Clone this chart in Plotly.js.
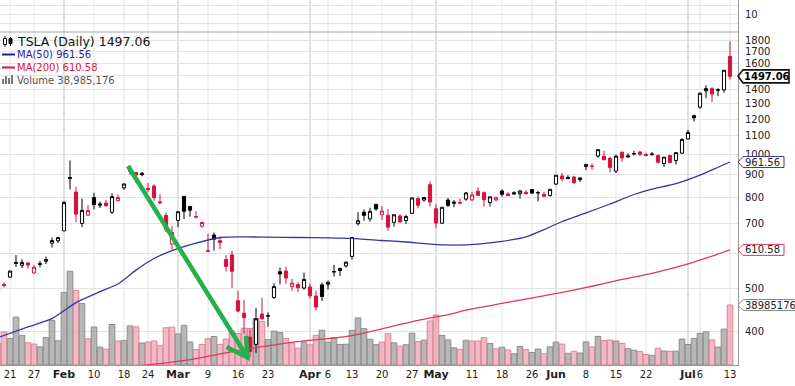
<!DOCTYPE html>
<html><head><meta charset="utf-8">
<script src="https://cdn.plot.ly/plotly-3.0.1.min.js"></script>
<style>html,body{margin:0;padding:0;background:#fff}#chart{width:795px;height:386px}</style>
</head><body><div id="chart"></div>
<script>
// ---- data (TSLA daily) ----
const dates = ['2020-01-16','2020-01-17','2020-01-21','2020-01-22','2020-01-23','2020-01-24','2020-01-27','2020-01-28','2020-01-29','2020-01-30','2020-01-31',
'2020-02-03','2020-02-04','2020-02-05','2020-02-06','2020-02-07','2020-02-10','2020-02-11','2020-02-12','2020-02-13','2020-02-14','2020-02-18','2020-02-19','2020-02-20','2020-02-21','2020-02-24','2020-02-25','2020-02-26','2020-02-27','2020-02-28',
'2020-03-02','2020-03-03','2020-03-04','2020-03-05','2020-03-06','2020-03-09','2020-03-10','2020-03-11','2020-03-12','2020-03-13','2020-03-16','2020-03-17','2020-03-18','2020-03-19','2020-03-20','2020-03-23','2020-03-24','2020-03-25','2020-03-26','2020-03-27','2020-03-30','2020-03-31',
'2020-04-01','2020-04-02','2020-04-03','2020-04-06','2020-04-07','2020-04-08','2020-04-09','2020-04-13','2020-04-14','2020-04-15','2020-04-16','2020-04-17','2020-04-20','2020-04-21','2020-04-22','2020-04-23','2020-04-24','2020-04-27','2020-04-28','2020-04-29','2020-04-30',
'2020-05-01','2020-05-04','2020-05-05','2020-05-06','2020-05-07','2020-05-08','2020-05-11','2020-05-12','2020-05-13','2020-05-14','2020-05-15','2020-05-18','2020-05-19','2020-05-20','2020-05-21','2020-05-22','2020-05-26','2020-05-27','2020-05-28','2020-05-29',
'2020-06-01','2020-06-02','2020-06-03','2020-06-04','2020-06-05','2020-06-08','2020-06-09','2020-06-10','2020-06-11','2020-06-12','2020-06-15','2020-06-16','2020-06-17','2020-06-18','2020-06-19','2020-06-22','2020-06-23','2020-06-24','2020-06-25','2020-06-26','2020-06-29','2020-06-30',
'2020-07-01','2020-07-02','2020-07-06','2020-07-07','2020-07-08','2020-07-09','2020-07-10','2020-07-13'];

const open = [493.75,507.61,530.25,571.89,564.25,570.63,541.99,568.49,575.69,632.42,640.00,
673.69,882.96,823.26,699.92,730.55,800.00,768.79,777.87,741.84,787.22,841.60,923.50,911.10,906.98,839.00,849.00,782.50,730.00,629.70,
711.26,805.00,763.96,723.77,690.00,605.39,659.43,640.20,580.89,595.00,469.50,440.01,389.00,374.70,438.20,433.60,477.30,545.25,547.39,505.00,510.26,501.25,
504.00,481.03,509.50,511.20,545.00,554.20,562.09,590.16,698.97,742.00,716.94,772.28,732.70,730.12,703.98,727.60,710.81,737.61,795.64,790.17,855.19,
755.00,701.00,789.79,776.50,777.21,793.77,790.51,827.00,820.83,780.00,790.35,827.78,815.17,820.50,816.00,822.17,834.50,820.86,813.51,808.75,
858.00,894.70,888.12,889.88,877.84,940.00,940.01,991.88,990.20,980.00,917.79,1011.85,987.01,1003.00,1012.93,999.95,998.88,994.11,954.27,994.78,969.01,1006.50,
1083.00,1221.48,1276.69,1405.01,1405.00,1396.99,1396.00,1659.00];

const high = [514.46,515.67,548.58,594.50,582.00,573.86,564.44,576.81,589.80,650.88,653.00,
786.14,968.99,845.98,795.83,769.75,819.99,783.51,789.75,818.00,812.97,860.00,944.78,912.50,913.05,863.50,856.60,813.31,739.76,690.59,
743.69,806.98,766.52,745.75,707.00,663.00,668.00,653.58,594.50,607.57,494.87,471.85,404.86,452.00,477.00,442.00,513.69,557.00,560.00,525.80,516.65,542.96,
513.95,494.26,515.49,521.00,565.00,557.21,575.18,652.00,741.88,753.13,759.45,774.95,765.57,753.33,734.00,734.00,730.73,799.49,805.00,803.20,869.82,
772.77,762.00,798.92,789.80,796.40,824.00,824.00,843.29,826.00,803.36,805.05,834.72,822.07,826.00,832.50,831.78,834.60,827.71,824.75,835.00,
899.00,908.66,897.94,895.75,886.52,950.00,954.44,1027.48,1018.96,987.98,998.84,1012.88,1005.00,1019.05,1015.97,1008.88,1012.00,1000.88,985.98,995.00,1010.00,1087.69,
1135.33,1228.00,1377.79,1429.50,1417.26,1408.56,1548.92,1794.99];

const low = [492.17,503.16,528.41,559.10,555.60,554.26,539.28,558.08,567.43,618.00,632.52,
673.52,833.88,704.11,687.00,730.00,752.40,758.00,763.37,735.00,785.50,832.36,901.02,863.02,893.69,822.09,787.00,776.11,669.45,611.52,
686.67,716.11,724.73,718.07,684.27,605.00,608.00,613.00,546.25,502.00,442.17,396.00,350.51,358.50,425.79,410.50,474.00,511.11,512.25,494.03,491.23,497.00,
475.10,446.40,468.89,497.96,532.34,533.33,557.11,580.53,692.43,710.00,706.72,747.66,712.21,673.79,688.71,703.13,698.18,735.00,756.69,783.16,763.50,
683.04,698.00,762.18,761.11,772.35,787.01,785.00,808.00,763.30,764.00,786.55,803.88,806.08,811.80,796.00,812.00,815.71,785.00,801.69,804.21,
854.10,871.00,880.10,858.44,866.20,922.00,923.93,982.50,972.00,912.60,908.50,962.39,982.57,994.47,991.34,991.00,994.01,953.14,937.15,954.87,948.52,1003.73,
1080.50,1185.60,1266.04,1336.71,1311.34,1351.28,1376.01,1471.11];

const close = [513.49,510.50,547.20,569.56,572.20,564.82,558.02,566.90,580.99,640.81,650.57,
780.00,887.06,734.70,748.96,748.07,771.28,774.38,767.29,804.00,800.03,858.40,917.42,899.41,901.00,833.79,799.91,778.80,679.00,667.99,
743.62,745.51,749.50,724.54,703.48,608.00,645.33,634.23,560.55,546.62,445.07,430.20,361.22,427.64,427.53,434.29,505.00,539.25,528.16,514.36,502.13,524.00,
481.56,454.47,480.01,516.24,545.45,548.84,573.00,650.95,709.89,729.83,745.21,753.89,746.36,686.72,732.11,705.63,725.15,798.75,769.12,800.51,781.88,
701.32,760.99,768.63,781.29,780.04,819.42,811.29,809.41,790.96,803.33,799.17,813.63,808.01,815.56,827.60,816.88,818.87,820.23,805.81,835.00,
898.10,881.56,882.96,864.38,885.66,949.92,940.67,1025.05,972.84,935.28,990.90,982.13,991.79,1003.96,1000.90,994.32,1001.78,960.85,985.98,959.74,1009.35,1079.81,
1119.63,1208.66,1371.58,1389.86,1365.88,1394.28,1544.65,1497.06];

// volume in millions of shares
const volume = [14.0,21.5,17.2,31.1,19.3,14.4,13.6,11.8,17.8,29.0,15.7,
47.2,60.9,48.4,39.9,17.1,24.7,11.7,10.3,26.3,15.6,16.0,25.4,24.8,14.3,14.9,15.6,12.5,24.2,24.6,
20.2,25.8,15.0,10.0,13.4,17.1,18.5,13.3,16.8,22.1,20.5,23.9,23.7,30.2,28.3,16.5,22.0,21.1,17.3,14.4,11.0,15.0,
13.1,19.3,22.6,14.9,17.7,13.4,13.5,22.5,30.6,23.6,16.7,13.2,14.9,20.3,14.4,12.3,13.2,20.7,15.2,16.2,28.6,
32.5,19.2,16.3,11.2,10.2,16.1,15.6,15.6,17.8,14.0,10.5,11.5,9.7,7.3,12.0,9.9,8.1,10.4,7.3,11.8,
14.9,13.6,7.6,8.9,7.8,15.0,11.8,18.6,15.9,16.2,15.6,14.1,10.6,9.6,8.7,6.8,6.3,10.9,9.1,8.9,9.0,16.9,
13.3,17.3,20.6,21.5,16.3,11.7,23.3,38.985176];
const priorClose = 518.50;   // close before the first candle

const ma50Dates = ['2020-01-16','2020-01-24','2020-01-30','2020-02-05','2020-02-11','2020-02-14','2020-02-20','2020-02-25','2020-02-28','2020-03-05','2020-03-11','2020-03-17','2020-03-23','2020-03-30','2020-04-06','2020-04-13','2020-04-20','2020-04-24','2020-04-30','2020-05-06','2020-05-12','2020-05-18','2020-05-22','2020-05-28','2020-06-02','2020-06-08','2020-06-12','2020-06-18','2020-06-23','2020-06-29','2020-07-06','2020-07-09','2020-07-13'];
const ma50 = [388,410,428,465,492,512,550,584,608,632,651,653,652,651,650,648,641,636,629,626,629,638,653,678,707,739,774,813,836,860,899,936,961.56];

const ma200Dates = ['2020-02-19','2020-02-24','2020-02-28','2020-03-06','2020-03-13','2020-03-23','2020-03-30','2020-04-06','2020-04-13','2020-04-20','2020-04-28','2020-05-05','2020-05-08','2020-05-18','2020-05-27','2020-06-02','2020-06-09','2020-06-16','2020-06-23','2020-06-30','2020-07-07','2020-07-13'];
const ma200 = [333,337,342,350,361,372,380,386,392,406,424,437,447,463,479,490,506,524,541,563,585,610.58];

const tickDates = ['2020-01-21','2020-01-27','2020-02-03','2020-02-10','2020-02-18','2020-02-24','2020-03-02','2020-03-09','2020-03-16','2020-03-23','2020-04-01','2020-04-06','2020-04-13','2020-04-20','2020-04-27','2020-05-01','2020-05-11','2020-05-18','2020-05-26','2020-06-01','2020-06-08','2020-06-15','2020-06-22','2020-07-01','2020-07-06','2020-07-13'];
const tickLabels = ['21','27','Feb','10','18','24','Mar','9','16','23','Apr','6','13','20','27','May','11','18','26','Jun','8','15','22','Jul','6','13'];
const monthLabels = ['Feb','Mar','Apr','May','Jun','Jul'];
const priceTicks = [400,500,600,700,800,900,1000,1100,1200,1300,1400,1500,1600,1700,1800];
const hiddenPriceLabels = [600,1500];   // covered by the value tags in the reference

const symbol = 'TSLA', lastVolumeShares = 38985176;

// ---- build ----
const RED = '#d3123d', BLACK = '#000000';
const blk = {x:[],open:[],high:[],low:[],close:[]}, red = {x:[],open:[],high:[],low:[],close:[]};
const vColor = [], vLine = [];
for (let i = 0; i < dates.length; i++) {
  const prev = i === 0 ? priorClose : close[i-1];
  const g = close[i] >= prev ? blk : red;
  g.x.push(dates[i]); g.open.push(open[i]); g.high.push(high[i]); g.low.push(low[i]); g.close.push(close[i]);
  if (close[i] >= prev) { vColor.push('rgba(165,165,165,0.8)'); vLine.push('#8c8c8c'); }
  else { vColor.push('rgba(232,140,160,0.6)'); vLine.push('#dc8497'); }
}
const lastClose = close[close.length-1];
const lastMA50 = ma50[ma50.length-1], lastMA200 = ma200[ma200.length-1];

const traces = [
  {type:'bar', x:dates, y:volume, xaxis:'x', yaxis:'y',
   marker:{color:vColor, line:{color:vLine, width:1}}, hoverinfo:'skip'},
  {type:'scatter', mode:'lines', x:ma200Dates, y:ma200, xaxis:'x', yaxis:'y2',
   line:{color:'#e0385a', width:1.3, shape:'spline', smoothing:0.6}, hoverinfo:'skip'},
  {type:'scatter', mode:'lines', x:ma50Dates, y:ma50, xaxis:'x', yaxis:'y2',
   line:{color:'#3434a6', width:1.3, shape:'spline', smoothing:0.6}, hoverinfo:'skip'},
  {type:'candlestick', x:blk.x, open:blk.open, high:blk.high, low:blk.low, close:blk.close, xaxis:'x', yaxis:'y2',
   line:{width:1}, whiskerwidth:0,
   increasing:{line:{color:BLACK, width:1}, fillcolor:'#ffffff'},
   decreasing:{line:{color:BLACK, width:1}, fillcolor:BLACK}, hoverinfo:'skip'},
  {type:'candlestick', x:red.x, open:red.open, high:red.high, low:red.low, close:red.close, xaxis:'x', yaxis:'y2',
   line:{width:1}, whiskerwidth:0,
   increasing:{line:{color:RED, width:1}, fillcolor:'#ffffff'},
   decreasing:{line:{color:RED, width:1}, fillcolor:RED}, hoverinfo:'skip'},
  {type:'scatter', mode:'lines', x:[], y:[], xaxis:'x', yaxis:'y3', hoverinfo:'skip'}
];

const PW = 738, PH = 365, SPLIT = 333/365;
const fx = px => px/PW, fy = py => 1 - py/PH;
const shapes = [];
// vertical grid lines at the date ticks (month starts darker)
tickDates.forEach((d, k) => {
  const isMonth = monthLabels.includes(tickLabels[k]);
  shapes.push({type:'line', xref:'x', yref:'paper', x0:dates.indexOf(d), x1:dates.indexOf(d), y0:0, y1:1,
    line:{color:isMonth ? '#c4c4c4' : '#e3e3e3', width:1}, layer:'below'});
});
// panel separator
shapes.push({type:'line', xref:'paper', yref:'paper', x0:0, x1:1, y0:SPLIT, y1:SPLIT, line:{color:'#a6a6a6', width:1}});
// green arrow
const P = (x, y) => fx(x).toFixed(5) + ',' + fy(y).toFixed(5);
shapes.push({type:'path', xref:'paper', yref:'paper', layer:'above',
  path:'M' + P(128,166) + ' L' + P(247.5,357.5) + ' M' + P(226.5,347) + ' L' + P(247.5,357.5) + ' L' + P(246,336),
  line:{color:'#22b14c', width:4.5}});
// legend icons
shapes.push({type:'line', xref:'paper', yref:'paper', x0:fx(5), x1:fx(5), y0:fy(36), y1:fy(47), line:{color:'#111', width:1}});
shapes.push({type:'rect', xref:'paper', yref:'paper', x0:fx(3.5), x1:fx(6.5), y0:fy(38.5), y1:fy(44.5), fillcolor:'#fff', line:{color:'#111', width:1}});
shapes.push({type:'line', xref:'paper', yref:'paper', x0:fx(10.5), x1:fx(10.5), y0:fy(37), y1:fy(46), line:{color:'#111', width:1}});
shapes.push({type:'rect', xref:'paper', yref:'paper', x0:fx(9), x1:fx(12), y0:fy(38.5), y1:fy(43.5), fillcolor:'#111', line:{color:'#111', width:1}});
shapes.push({type:'line', xref:'paper', yref:'paper', x0:fx(2), x1:fx(15), y0:fy(54.5), y1:fy(54.5), line:{color:'#1f1fa0', width:2}});
shapes.push({type:'line', xref:'paper', yref:'paper', x0:fx(2), x1:fx(15), y0:fy(67.5), y1:fy(67.5), line:{color:'#dc143c', width:2}});
[[2,79],[5,76],[8,78],[11,75]].forEach(b => shapes.push({type:'rect', xref:'paper', yref:'paper',
  x0:fx(b[0]), x1:fx(b[0]+2), y0:fy(84), y1:fy(b[1]), fillcolor:'#777', line:{width:0}}));

// value tags on the right
function tag(yref, yval, w, h, color, lw) {
  shapes.push({type:'path', xref:'paper', yref:yref, xsizemode:'pixel', ysizemode:'pixel', xanchor:1, yanchor:yval,
    path:`M0,0 L5,${h/2} L${w},${h/2} L${w},${-h/2} L5,${-h/2} Z`, fillcolor:'#ffffff', line:{color:color, width:lw}, layer:'above'});
}
tag('y2', lastClose, 51, 13, '#111111', 1.6);
tag('y2', lastMA50, 46, 11, '#3a3aa8', 1);
tag('y2', lastMA200, 46, 11, '#e0385a', 1);
tag('y', volume[volume.length-1], 66, 11, '#8a8a8a', 1);

const fnt = (s, c) => ({family:'DejaVu Sans, sans-serif', size:s, color:c});
const annotations = [
  {xref:'paper', yref:'y2', x:1, y:Math.log10(lastClose), xanchor:'left', xshift:4, showarrow:false,
   text:'<b>' + lastClose.toFixed(2) + '</b>', font:fnt(10,'#000')},
  {xref:'paper', yref:'y2', x:1, y:Math.log10(lastMA50), xanchor:'left', xshift:5, showarrow:false,
   text:lastMA50.toFixed(2), font:fnt(10,'#222')},
  {xref:'paper', yref:'y2', x:1, y:Math.log10(lastMA200), xanchor:'left', xshift:5, showarrow:false,
   text:lastMA200.toFixed(2), font:fnt(10,'#222')},
  {xref:'paper', yref:'y', x:1, y:volume[volume.length-1], xanchor:'left', xshift:5, showarrow:false,
   text:String(lastVolumeShares), font:fnt(10,'#222')},
  {xref:'paper', yref:'paper', x:fx(15), y:fy(42), xanchor:'left', yanchor:'middle', showarrow:false,
   text:symbol + ' (Daily) ' + lastClose.toFixed(2), font:fnt(12.5,'#111')},
  {xref:'paper', yref:'paper', x:fx(15), y:fy(55), xanchor:'left', yanchor:'middle', showarrow:false,
   text:'MA(50) ' + lastMA50.toFixed(2), font:fnt(10,'#1f1fa0')},
  {xref:'paper', yref:'paper', x:fx(15), y:fy(67.5), xanchor:'left', yanchor:'middle', showarrow:false,
   text:'MA(200) ' + lastMA200.toFixed(2), font:fnt(10,'#dc143c')},
  {xref:'paper', yref:'paper', x:fx(15), y:fy(80), xanchor:'left', yanchor:'middle', showarrow:false,
   text:'Volume ' + lastVolumeShares.toLocaleString('en-US'), font:fnt(10,'#555')}
];

const tickText = tickLabels.map(t => monthLabels.includes(t) ? '<span style="font-size:11px"><b>' + t + '</b></span>' : t);
const logR = [Math.log10(336.8), Math.log10(1882.8)];

const layout = {
  width:795, height:386, margin:{l:0, r:57, t:0, b:21, pad:0},
  paper_bgcolor:'#ffffff', plot_bgcolor:'rgba(0,0,0,0)',
  font:{family:'DejaVu Sans, sans-serif', size:10, color:'#222'},
  showlegend:false, hovermode:false, bargap:0.06, boxgap:0.25,
  xaxis:{type:'category', categoryorder:'array', categoryarray:dates, range:[1/3, 123+1/3],
    tickmode:'array', tickvals:tickDates, ticktext:tickText, showgrid:false, showline:true, linecolor:'#9a9a9a',
    ticks:'', tickangle:0, tickfont:{size:10, color:'#222'}, zeroline:false, fixedrange:true,
    rangeslider:{visible:false}, anchor:'y'},
  yaxis:{domain:[0, SPLIT], range:[0, 216.4], visible:false, fixedrange:true},
  yaxis2:{overlaying:'y', side:'right', anchor:'x', type:'log', range:logR,
    tickmode:'array', tickvals:priceTicks, ticktext:priceTicks.map(v => hiddenPriceLabels.includes(v) ? '' : String(v)),
    showgrid:true, gridcolor:'#e3e3e3', showline:true, linecolor:'#9a9a9a', ticks:'',
    ticklabelstandoff:4, tickfont:{size:10, color:'#222'}, zeroline:false, fixedrange:true},
  yaxis3:{domain:[SPLIT, 1], anchor:'x', side:'right', range:[-10, 25.6],
    tickmode:'array', tickvals:[0,10,20], ticktext:['','10',''],
    showgrid:true, gridcolor:'#e3e3e3', showline:true, linecolor:'#9a9a9a', ticks:'',
    ticklabelstandoff:4, tickfont:{size:10, color:'#222'}, zeroline:false, fixedrange:true},
  shapes:shapes, annotations:annotations
};

Plotly.newPlot('chart', traces, layout, {displayModeBar:false, staticPlot:true});
</script>
</body></html>
